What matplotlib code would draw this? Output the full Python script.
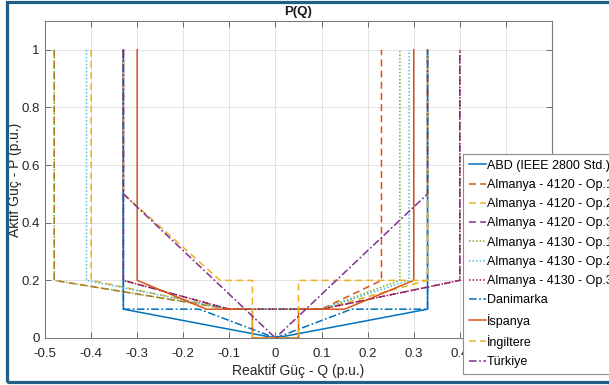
import matplotlib
matplotlib.use("Agg")
import matplotlib.pyplot as plt
from matplotlib.patches import Rectangle

plt.rcParams['font.family'] = ['Liberation Sans', 'DejaVu Sans']

# Reactive-power capability envelopes P(Q) for several grid codes
abd_q = [-0.33, -0.33, 0.0, 0.33, 0.33]
abd_p = [1.0, 0.1, 0.0, 0.1, 1.0]

# German VDE-AR-N variants share the same P breakpoints
de_p = [1.0, 0.2, 0.1, 0.1, 0.2, 1.0]
de4120_op1_q = [-0.48, -0.48, -0.1, 0.1, 0.23, 0.23]
de4120_op2_q = [-0.40, -0.40, -0.1, 0.1, 0.33, 0.33]
de4120_op3_q = [-0.33, -0.33, -0.1, 0.1, 0.40, 0.40]
de4130_op1_q = [-0.48, -0.48, -0.1, 0.1, 0.27, 0.27]
de4130_op2_q = [-0.41, -0.41, -0.1, 0.1, 0.29, 0.29]
de4130_op3_q = [-0.33, -0.33, -0.1, 0.1, 0.40, 0.40]

dk_q = [-0.33, -0.33, -0.165, 0.0, 0.165, 0.33, 0.33]
dk_p = [1.0, 0.1, 0.1, 0.0, 0.1, 0.1, 1.0]

es_q = [-0.30, -0.30, -0.15, -0.05, -0.05, 0.05, 0.05, 0.15, 0.30, 0.30]
es_p = [1.0, 0.2, 0.1, 0.1, 0.0, 0.0, 0.1, 0.1, 0.2, 1.0]

uk_q = [-0.33, -0.33, -0.12, -0.05, -0.05, 0.05, 0.05, 0.33, 0.33]
uk_p = [1.0, 0.5, 0.2, 0.2, 0.0, 0.0, 0.2, 0.2, 1.0]

tr_q = [-0.33, -0.33, 0.0, 0.33, 0.33]
tr_p = [1.0, 0.5, 0.0, 0.5, 1.0]

labels = ["ABD (IEEE 2800 Std.)",
          "Almanya - 4120 - Op.1", "Almanya - 4120 - Op.2", "Almanya - 4120 - Op.3",
          "Almanya - 4130 - Op.1", "Almanya - 4130 - Op.2", "Almanya - 4130 - Op.3",
          "Danimarka", "İspanya", "İngiltere", "Türkiye"]

x_ticks = [-0.5, -0.4, -0.3, -0.2, -0.1, 0, 0.1, 0.2, 0.3, 0.4, 0.5, 0.6]
x_ticklabels = ["-0.5", "-0.4", "-0.3", "-0.2", "-0.1", "0", "0.1", "0.2", "0.3", "0.4", "0.5", "0.6"]
y_ticks = [0, 0.2, 0.4, 0.6, 0.8, 1.0]
y_ticklabels = ["0", "0.2", "0.4", "0.6", "0.8", "1"]

C_BLUE = "#0072BD"
C_ORANGE = "#D95319"
C_YELLOW = "#EDB120"
C_PURPLE = "#7E2F8E"
C_GREEN = "#77AC30"
C_CYAN = "#4DBEEE"
C_RED = "#A2142F"

DASH = (0, (4.5, 2.8))
DOT = (0, (1.0, 1.3))
DASHDOT = (0, (5.0, 1.6, 1.2, 1.6))
LW = 1.1

fig = plt.figure(figsize=(6.09, 3.85), dpi=100)
ax = fig.add_axes([45 / 609, 47 / 385, 507 / 609, 317 / 385])

series = [
    (abd_q, abd_p, C_BLUE, "-"),
    (de4120_op1_q, de_p, C_ORANGE, DASH),
    (de4120_op2_q, de_p, C_YELLOW, DASH),
    (de4120_op3_q, de_p, C_PURPLE, DASH),
    (de4130_op1_q, de_p, C_GREEN, DOT),
    (de4130_op2_q, de_p, C_CYAN, DOT),
    (de4130_op3_q, de_p, C_RED, DOT),
    (dk_q, dk_p, C_BLUE, DASHDOT),
    (es_q, es_p, C_ORANGE, "-"),
    (uk_q, uk_p, C_YELLOW, DASH),
    (tr_q, tr_p, C_PURPLE, DASHDOT),
]
for (q, p, c, ls), lab in zip(series, labels):
    ax.plot(q, p, color=c, linestyle=ls, linewidth=LW, label=lab)

ax.set_xlim(-0.5, 0.6)
ax.set_ylim(0, 1.1)
ax.set_xticks(x_ticks)
ax.set_xticklabels(x_ticklabels)
ax.set_yticks(y_ticks)
ax.set_yticklabels(y_ticklabels)
ax.grid(True, color="#e2e2e2", linewidth=0.7)
ax.set_axisbelow(True)
ax.tick_params(direction="in", top=True, right=True, length=4, width=0.7,
               color="#6e6e6e", labelsize=9.5, labelcolor="#262626", pad=4)
ax.tick_params(axis="x", pad=7)
for s in ax.spines.values():
    s.set_color("#7a7a7a")
    s.set_linewidth(0.8)

ax.set_title("P(Q)", fontsize=9.5, fontweight="bold", color="#1a1a1a", pad=4)
ax.set_xlabel("Reaktif Güç - Q (p.u.)", fontsize=10, color="#262626", labelpad=3)
ax.set_ylabel("Aktif Güç - P (p.u.)", fontsize=10, color="#262626")
ax.yaxis.set_label_coords(-0.046, 0.5)

leg = ax.legend(loc="upper left", bbox_to_anchor=(463 / 609, 1 - 154 / 385),
                bbox_transform=fig.transFigure, fontsize=9, frameon=True,
                fancybox=False, framealpha=1, edgecolor="#8c8c8c",
                handlelength=1.35, handletextpad=0.1, labelspacing=0.58,
                borderpad=0.45, borderaxespad=0)
leg.get_frame().set_linewidth(0.8)

# Outer frame
fig.patches.append(Rectangle((7 / 609, 3 / 385), 2.0, 380 / 385,
                             transform=fig.transFigure, fill=False,
                             edgecolor="#1f5f86", linewidth=2.3, zorder=10))

fig.savefig("out.png", dpi=100)
